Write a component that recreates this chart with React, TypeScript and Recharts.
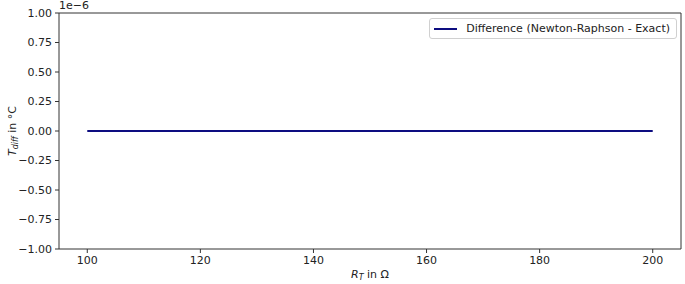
import { LineChart, Line, XAxis, YAxis, ReferenceLine } from "recharts";

// resistance R_T in ohm
const resistance = [100, 110, 120, 130, 140, 150, 160, 170, 180, 190, 200];
// difference Newton-Raphson minus exact, in units of 1e-6 °C
const difference = [0, 0, 0, 0, 0, 0, 0, 0, 0, 0, 0];
const xTicks = [100, 120, 140, 160, 180, 200];
const yTicks = [-1, -0.75, -0.5, -0.25, 0, 0.25, 0.5, 0.75, 1];

const FONT = "'DejaVu Sans', sans-serif";
const AXIS = "#333";
const LINE = "#0d0d80";
const FS = 11;

const data = resistance.map((r, i) => ({ r, diff: difference[i] }));

const fmtY = (v: number) => v.toFixed(2).replace("-", "\u2212");

function LegendBox() {
  return (
    <div
      style={{
        position: "absolute",
        top: 18,
        right: 8,
        display: "flex",
        alignItems: "center",
        border: "1px solid #d0d0d0",
        borderRadius: 3,
        background: "rgba(255,255,255,0.8)",
        padding: "0 6px 0 4px",
        fontFamily: FONT,
        fontSize: FS,
        color: "#222",
        height: 19,
        whiteSpace: "nowrap",
      }}
    >
      <span style={{ display: "inline-block", width: 23, height: 2, background: LINE, marginRight: 9 }} />
      Difference (Newton-Raphson - Exact)
    </div>
  );
}

export default function App() {
  return (
    <div style={{ position: "absolute", left: 0, top: 0, width: 685, height: 284, background: "#fff" }}>
      <LineChart width={685} height={284} data={data} margin={{ top: 13, right: 4, left: 4, bottom: 0 }}>
        <XAxis
          dataKey="r"
          type="number"
          domain={[95, 205]}
          ticks={xTicks}
          tickSize={4}
          tickMargin={3}
          height={35}
          stroke={AXIS}
          tick={{ fill: "#222", fontSize: FS, fontFamily: FONT }}
          allowDataOverflow
        />
        <YAxis
          type="number"
          domain={[-1, 1]}
          ticks={yTicks}
          tickFormatter={fmtY}
          tickSize={4}
          tickMargin={3}
          width={55}
          stroke={AXIS}
          tick={{ fill: "#222", fontSize: FS, fontFamily: FONT }}
          allowDataOverflow
        />
        <ReferenceLine y={1} stroke={AXIS} />
        <ReferenceLine x={205} stroke={AXIS} />
        <Line dataKey="diff" stroke={LINE} strokeWidth={2} dot={false} isAnimationActive={false} />
      </LineChart>
      <LegendBox />
      <svg width={685} height={284} style={{ position: "absolute", left: 0, top: 0, pointerEvents: "none" }}>
        <text x={59} y={9} fontFamily={FONT} fontSize={FS} fill="#222">{"1e\u22126"}</text>
        <text x={370} y={278} fontFamily={FONT} fontSize={FS} fill="#222" textAnchor="middle">
          <tspan fontStyle="italic">R</tspan>
          <tspan fontStyle="italic" fontSize={8} dy={2}>T</tspan>
          <tspan dy={-2}> in Ω</tspan>
        </text>
        <text x={0} y={0} fontFamily={FONT} fontSize={FS} fill="#222" textAnchor="middle" transform="translate(16,131) rotate(-90)">
          <tspan fontStyle="italic">T</tspan>
          <tspan fontStyle="italic" fontSize={8} dy={2}>diff</tspan>
          <tspan dy={-2}> in °C</tspan>
        </text>
      </svg>
    </div>
  );
}
